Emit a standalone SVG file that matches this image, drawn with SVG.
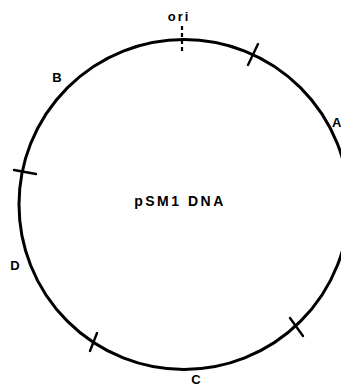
<svg xmlns="http://www.w3.org/2000/svg" width="341" height="388" viewBox="0 0 341 388">
<style>
.ln{stroke:#000;stroke-width:3;fill:none;stroke-linecap:round}
.t{font-family:"Liberation Sans",Arial,sans-serif;font-size:13px;font-weight:bold;fill:#000;text-anchor:middle}
</style>
<rect width="341" height="388" fill="#fff"/>
<g id="plasmid">
<circle class="ln" cx="184" cy="204.5" r="165"/>
<text class="t" x="180" y="206" style="font-size:14px;letter-spacing:2.5px">pSM1 DNA</text>
</g>
<g id="connectors">
<line class="ln" x1="182" y1="26" x2="182" y2="54" stroke-dasharray="4,3" style="stroke-width:2.2;stroke-linecap:butt"/>
<line class="ln" x1="248" y1="65" x2="258" y2="44" style="stroke-width:2.4"/>
<line class="ln" x1="14" y1="170" x2="36" y2="174" style="stroke-width:2.4"/>
<line class="ln" x1="97" y1="333" x2="90" y2="351" style="stroke-width:2.4"/>
<line class="ln" x1="290" y1="318" x2="303" y2="336" style="stroke-width:2.4"/>
</g>
<g id="site-ori"><text class="t" x="179" y="21" style="letter-spacing:2px">ori</text></g>
<g id="site-B"><text class="t" x="57" y="82">B</text></g>
<g id="site-A"><text class="t" x="332" y="127" style="text-anchor:start">A</text></g>
<g id="site-D"><text class="t" x="15" y="270">D</text></g>
<g id="site-C"><text class="t" x="196" y="384">C</text></g>
</svg>
